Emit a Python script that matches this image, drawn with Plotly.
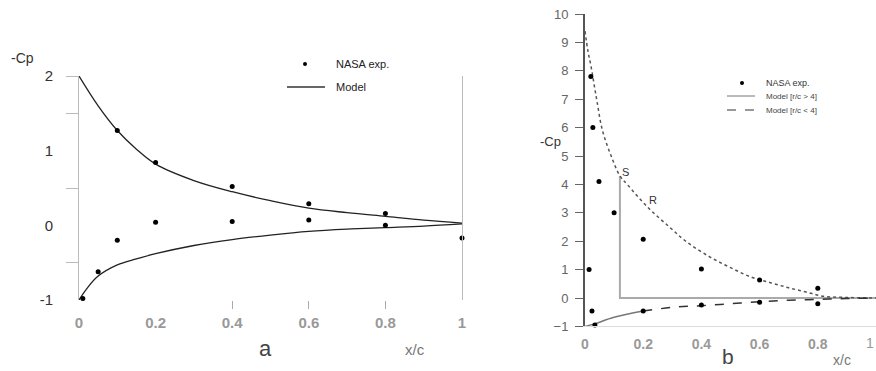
import plotly.graph_objects as go

# ---------------- Panel a: pressure coefficient, NASA data vs model ----------------
a_exp_x = [0.01, 0.1, 0.2, 0.4, 0.6, 0.8, 0.01, 0.05, 0.1, 0.2, 0.4, 0.6, 0.8, 1.0]
a_exp_y = [2.12, 1.27, 0.84, 0.52, 0.29, 0.16, -0.98, -0.62, -0.2, 0.04, 0.05, 0.07, 0.0, -0.17]

a_upper_x = [0, 0.05, 0.1, 0.15, 0.2, 0.3, 0.4, 0.5, 0.6, 0.7, 0.8, 0.9, 1.0]
a_upper_y = [2.0, 1.6, 1.27, 1.02, 0.82, 0.6, 0.45, 0.33, 0.23, 0.17, 0.12, 0.07, 0.03]
a_lower_x = [0, 0.02, 0.05, 0.1, 0.15, 0.2, 0.3, 0.4, 0.5, 0.6, 0.7, 0.8, 0.9, 1.0]
a_lower_y = [-1.0, -0.85, -0.68, -0.53, -0.45, -0.38, -0.27, -0.19, -0.13, -0.08, -0.05, -0.03, -0.01, 0.02]

a_xticks = [0, 0.2, 0.4, 0.6, 0.8, 1.0]
a_xlabels = ["0", "0.2", "0.4", "0.6", "0.8", "1"]
a_yticks = [-1, 0, 1, 2]
a_ylabels = ["-1", "0", "1", "2"]

# ---------------- Panel b: NASA data vs model with r/c regions ----------------
b_exp_x = [0.02, 0.027, 0.048, 0.1, 0.2, 0.4, 0.6, 0.8, 0.014, 0.024, 0.034, 0.2, 0.4, 0.6, 0.8]
b_exp_y = [7.8, 6.0, 4.1, 3.0, 2.07, 1.02, 0.63, 0.34, 1.0, -0.46, -0.95, -0.46, -0.25, -0.15, -0.2]

b_upper_x = [0, 0.01, 0.02, 0.04, 0.06, 0.09, 0.12, 0.145, 0.215, 0.29, 0.35, 0.43, 0.5, 0.57, 0.64, 0.7, 0.76, 0.82, 0.9, 1.0]
b_upper_y = [9.4, 8.7, 8.2, 7.0, 5.9, 5.0, 4.3, 4.0, 3.2, 2.5, 1.97, 1.44, 1.07, 0.74, 0.53, 0.36, 0.21, 0.06, 0.02, 0.0]

b_lower_solid_x = [0, 0.03, 0.1, 0.2]
b_lower_solid_y = [-1.0, -0.92, -0.68, -0.46]
b_lower_dash_x = [0.2, 0.3, 0.4, 0.5, 0.6, 0.7, 0.8, 0.9, 1.0]
b_lower_dash_y = [-0.46, -0.33, -0.27, -0.2, -0.13, -0.08, -0.05, -0.02, 0.0]

# boundary of the separated region (S at the top of the vertical edge)
region_x = [0.12, 0.12, 1.0]
region_y = [4.3, 0.0, 0.0]
point_labels = ["S", "R"]
point_label_x = [0.14, 0.232]
point_label_y = [4.45, 3.45]

b_xticks = [0, 0.2, 0.4, 0.6, 0.8, 1.0]
b_xlabels = ["0", "0.2", "0.4", "0.6", "0.8", "1"]
b_yticks = list(range(-1, 11))

FONT = "Liberation Sans, Arial, sans-serif"
W, H = 876, 371


def px(x):
    return x / W


def py(y):
    return 1 - y / H


def label(x, y, text, size, color, xanchor="center"):
    """Text placed at a pixel position of the page."""
    return dict(x=px(x), y=py(y), xref="paper", yref="paper", text=text, showarrow=False,
                xanchor=xanchor, yanchor="middle",
                font=dict(family=FONT, size=size, color=color))


fig = go.Figure()

# panel a traces
fig.add_trace(go.Scatter(x=a_upper_x, y=a_upper_y, mode="lines", line=dict(color="#222", width=1.3, shape="spline"),
                         xaxis="x", yaxis="y", showlegend=False))
fig.add_trace(go.Scatter(x=a_lower_x, y=a_lower_y, mode="lines", line=dict(color="#222", width=1.3, shape="spline"),
                         xaxis="x", yaxis="y", showlegend=False))
fig.add_trace(go.Scatter(x=a_exp_x, y=a_exp_y, mode="markers", marker=dict(color="black", size=5),
                         xaxis="x", yaxis="y", cliponaxis=False, showlegend=False))

# panel b traces
fig.add_trace(go.Scatter(x=region_x, y=region_y, mode="lines", line=dict(color="#aaa", width=2),
                         xaxis="x2", yaxis="y2", showlegend=False))
fig.add_trace(go.Scatter(x=b_upper_x, y=b_upper_y, mode="lines",
                         line=dict(color="#555", width=1.5, dash="dot", shape="spline"),
                         xaxis="x2", yaxis="y2", showlegend=False))
fig.add_trace(go.Scatter(x=b_lower_solid_x, y=b_lower_solid_y, mode="lines",
                         line=dict(color="#777", width=1.5, shape="spline"),
                         xaxis="x2", yaxis="y2", showlegend=False))
fig.add_trace(go.Scatter(x=b_lower_dash_x, y=b_lower_dash_y, mode="lines",
                         line=dict(color="#333", width=1.5, dash="dash", shape="spline"),
                         xaxis="x2", yaxis="y2", showlegend=False))
fig.add_trace(go.Scatter(x=b_exp_x, y=b_exp_y, mode="markers", marker=dict(color="black", size=5),
                         xaxis="x2", yaxis="y2", cliponaxis=False, showlegend=False))

annotations = []
for t, xx, yy in zip(point_labels, point_label_x, point_label_y):
    annotations.append(dict(x=xx, y=yy, xref="x2", yref="y2", text=t, showarrow=False,
                            xanchor="center", yanchor="middle",
                            font=dict(family=FONT, size=11, color="#333")))

# axis captions and panel letters
annotations += [
    label(22, 58, "-Cp", 14, "#333"),
    label(265, 348, "a", 22, "#444"),
    label(415, 349, "x/c", 15, "#777"),
    label(550, 141, "-Cp", 13, "#333"),
    label(728, 356, "b", 21, "#444"),
    label(842, 360, "x/c", 14, "#777"),
    # end label of the b abscissa, sitting on the page edge
    label(876, 343, "1", 14, "#999", xanchor="right"),
]

# legends drawn as keys + text
shapes = []
# panel a
shapes.append(dict(type="circle", xref="paper", yref="paper", x0=px(303), x1=px(307), y0=py(66), y1=py(62),
                   fillcolor="black", line=dict(width=0)))
shapes.append(dict(type="line", xref="paper", yref="paper", x0=px(287), x1=px(325), y0=py(87), y1=py(87),
                   line=dict(color="#333", width=1.5)))
annotations += [
    label(334, 64, "NASA exp.", 11, "#222", xanchor="left"),
    label(334, 87, "Model", 11, "#222", xanchor="left"),
]
# panel b
shapes.append(dict(type="circle", xref="paper", yref="paper", x0=px(740), x1=px(744), y0=py(85), y1=py(81),
                   fillcolor="black", line=dict(width=0)))
shapes.append(dict(type="line", xref="paper", yref="paper", x0=px(727), x1=px(755), y0=py(96), y1=py(96),
                   line=dict(color="#777", width=1)))
shapes.append(dict(type="line", xref="paper", yref="paper", x0=px(727), x1=px(755), y0=py(110), y1=py(110),
                   line=dict(color="#333", width=1, dash="dash")))
annotations += [
    label(764, 83, "NASA exp.", 9, "#333", xanchor="left"),
    label(764, 96, "Model [r/c > 4]", 8, "#444", xanchor="left"),
    label(764, 110, "Model [r/c < 4]", 8, "#444", xanchor="left"),
]

fig.update_layout(
    width=W, height=H,
    margin=dict(l=0, r=0, t=0, b=0, pad=0, autoexpand=False),
    paper_bgcolor="white", plot_bgcolor="white",
    showlegend=False,
    annotations=annotations,
    shapes=shapes,
    xaxis=dict(domain=[px(79), px(462)], range=[0, 1], anchor="y", automargin=False,
               tickmode="array", tickvals=a_xticks, ticktext=a_xlabels, ticks="",
               ticklabelstandoff=12,
               tickfont=dict(family=FONT, size=15, color="#999", weight="bold"),
               showline=False, showgrid=False, zeroline=False,
               minor=dict(tickmode="array", tickvals=[0.4, 0.6, 0.8], ticks="outside", ticklen=8,
                          tickcolor="#aaa", showgrid=False)),
    yaxis=dict(domain=[py(300), py(76)], range=[-1, 2], anchor="x", automargin=False,
               tickmode="array", tickvals=a_yticks, ticktext=a_ylabels, ticks="",
               ticklabelstandoff=22,
               tickfont=dict(family=FONT, size=15, color="#333"),
               showline=True, linecolor="#bbb", linewidth=1, mirror=True,
               showgrid=False, zeroline=False,
               minor=dict(tickmode="array", tickvals=[2, 1.5, 0.5, -0.5], ticks="outside", ticklen=12,
                          tickcolor="#bbb", showgrid=False)),
    xaxis2=dict(domain=[px(585), 1.0], range=[0, 1], anchor="y2", automargin=False,
                tickmode="array", tickvals=b_xticks[:-1], ticktext=b_xlabels[:-1], ticks="",
                ticklabelstandoff=5,
                tickfont=dict(family=FONT, size=14, color="#999", weight="bold"),
                showline=True, linecolor="#ddd", linewidth=1,
                showgrid=False, zeroline=False),
    yaxis2=dict(domain=[py(326.4), py(14)], range=[-1, 10], anchor="x2", automargin=False,
                tickmode="array", tickvals=b_yticks, ticks="outside", ticklen=8, tickcolor="#666",
                ticklabelstandoff=4,
                tickfont=dict(family=FONT, size=13, color="#666"),
                showline=True, linecolor="#555", linewidth=2,
                showgrid=False, zeroline=False),
)

fig.write_html("out.html")
